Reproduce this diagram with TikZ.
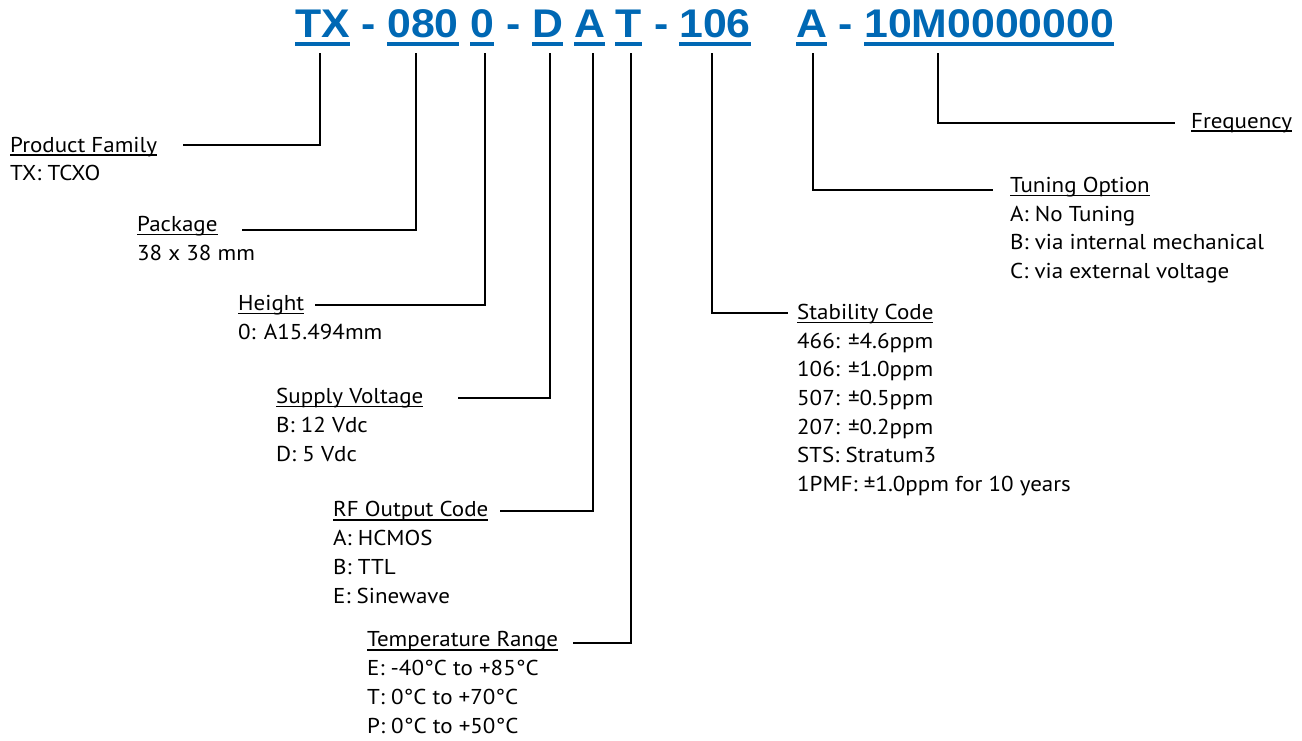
\documentclass[tikz,border=0pt]{standalone}
\usepackage{fontspec}
\setmainfont[FakeStretch=1.07]{PT Sans}
\newfontfamily\codefont[FakeStretch=1.07]{Liberation Sans}
\definecolor{codeblue}{RGB}{0,104,180}
\newcommand{\myul}[1]{\leavevmode\setbox0\hbox{#1}\rlap{\vrule width\wd0 height -2.2pt depth 3.7pt}\box0}
\begin{document}
\begin{tikzpicture}[x=1pt,y=-1pt,
  code/.style={font=\codefont\bfseries\fontsize{40}{40}\selectfont, text=codeblue, inner sep=0pt, anchor=base west},
  dsh/.style={font=\codefont\bfseries\fontsize{40}{40}\selectfont, text=codeblue, inner sep=0pt, anchor=base},
  uline/.style={draw=codeblue, line width=3.5pt},
  lbl/.style={font=\fontsize{21.5}{28.7}\selectfont, inner sep=0pt, anchor=base west, align=left},
  conn/.style={line width=2.5pt, black}]
\useasboundingbox (0,0) rectangle (1302,740);
% header code
\node[code] (c1) at (295,37) {TX};
\node[dsh] (d1) at (369,37) {-};
\node[code] (c2) at (387,37) {080};
\node[code] (c3) at (470,37) {0};
\node[dsh] (d2) at (514,37) {-};
\node[code] (c4) at (532,37) {D};
\node[code] (c5) at (574,37) {A};
\node[code] (c6) at (615,37) {T};
\node[dsh] (d3) at (662,37) {-};
\node[code] (c7) at (679,37) {106};
\node[code] (c8) at (796,37) {A};
\node[dsh] (d4) at (846,37) {-};
\node[code] (c9) at (864,37) {10M0000000};
\foreach \c in {c1,c2,c3,c4,c5,c6,c7,c8,c9}
  \draw[uline] ([yshift=-7pt]\c.base west) -- ([yshift=-7pt]\c.base east);
% labels (anchored at the baseline of their last line)
\node[lbl] (pf) at (10,180.7) {\myul{Product Family}\\TX: TCXO};
\node[lbl] (pk) at (137,260) {\myul{Package}\\38 x 38 mm};
\node[lbl] (ht) at (238,339) {\myul{Height}\\0: A15.494mm};
\node[lbl] (sv) at (276,461) {\myul{Supply Voltage}\\B: 12 Vdc\\D: 5 Vdc};
\node[lbl] (rf) at (333,603) {\myul{RF Output Code}\\A: HCMOS\\B: TTL\\E: Sinewave};
\node[lbl] (tr) at (367,733) {\myul{Temperature Range}\\E: -40°C to +85°C\\T: 0°C to +70°C\\P: 0°C to +50°C};
\node[lbl] (sc) at (797,491.5) {\myul{Stability Code}\\466: ±4.6ppm\\106: ±1.0ppm\\507: ±0.5ppm\\207: ±0.2ppm\\STS: Stratum3\\1PMF: ±1.0ppm for 10 years};
\node[lbl] (to) at (1010,278.5) {\myul{Tuning Option}\\A: No Tuning\\B: via internal mechanical\\C: via external voltage};
\node[lbl] (fr) at (1191,128) {\myul{Frequency}};
% connector tops
\coordinate (k1) at (320,53);
\coordinate (k2) at (416,53);
\coordinate (k3) at (485,53);
\coordinate (k4) at (550,53);
\coordinate (k5) at (593,53);
\coordinate (k6) at (631,53);
\coordinate (k7) at (712,53);
\coordinate (k8) at (813,53);
\coordinate (k9) at (938,53);
% connector ends
\coordinate (e1) at (183,145);
\coordinate (e2) at (242,230);
\coordinate (e3) at (315,305);
\coordinate (e4) at (458,398);
\coordinate (e5) at (500,511);
\coordinate (e6) at (573,643);
\coordinate (e7) at (788,313);
\coordinate (e8) at (993,190);
\coordinate (e9) at (1175,123);
\foreach \i in {1,...,9}
  \draw[conn] (k\i) |- (e\i);
\end{tikzpicture}
\end{document}
